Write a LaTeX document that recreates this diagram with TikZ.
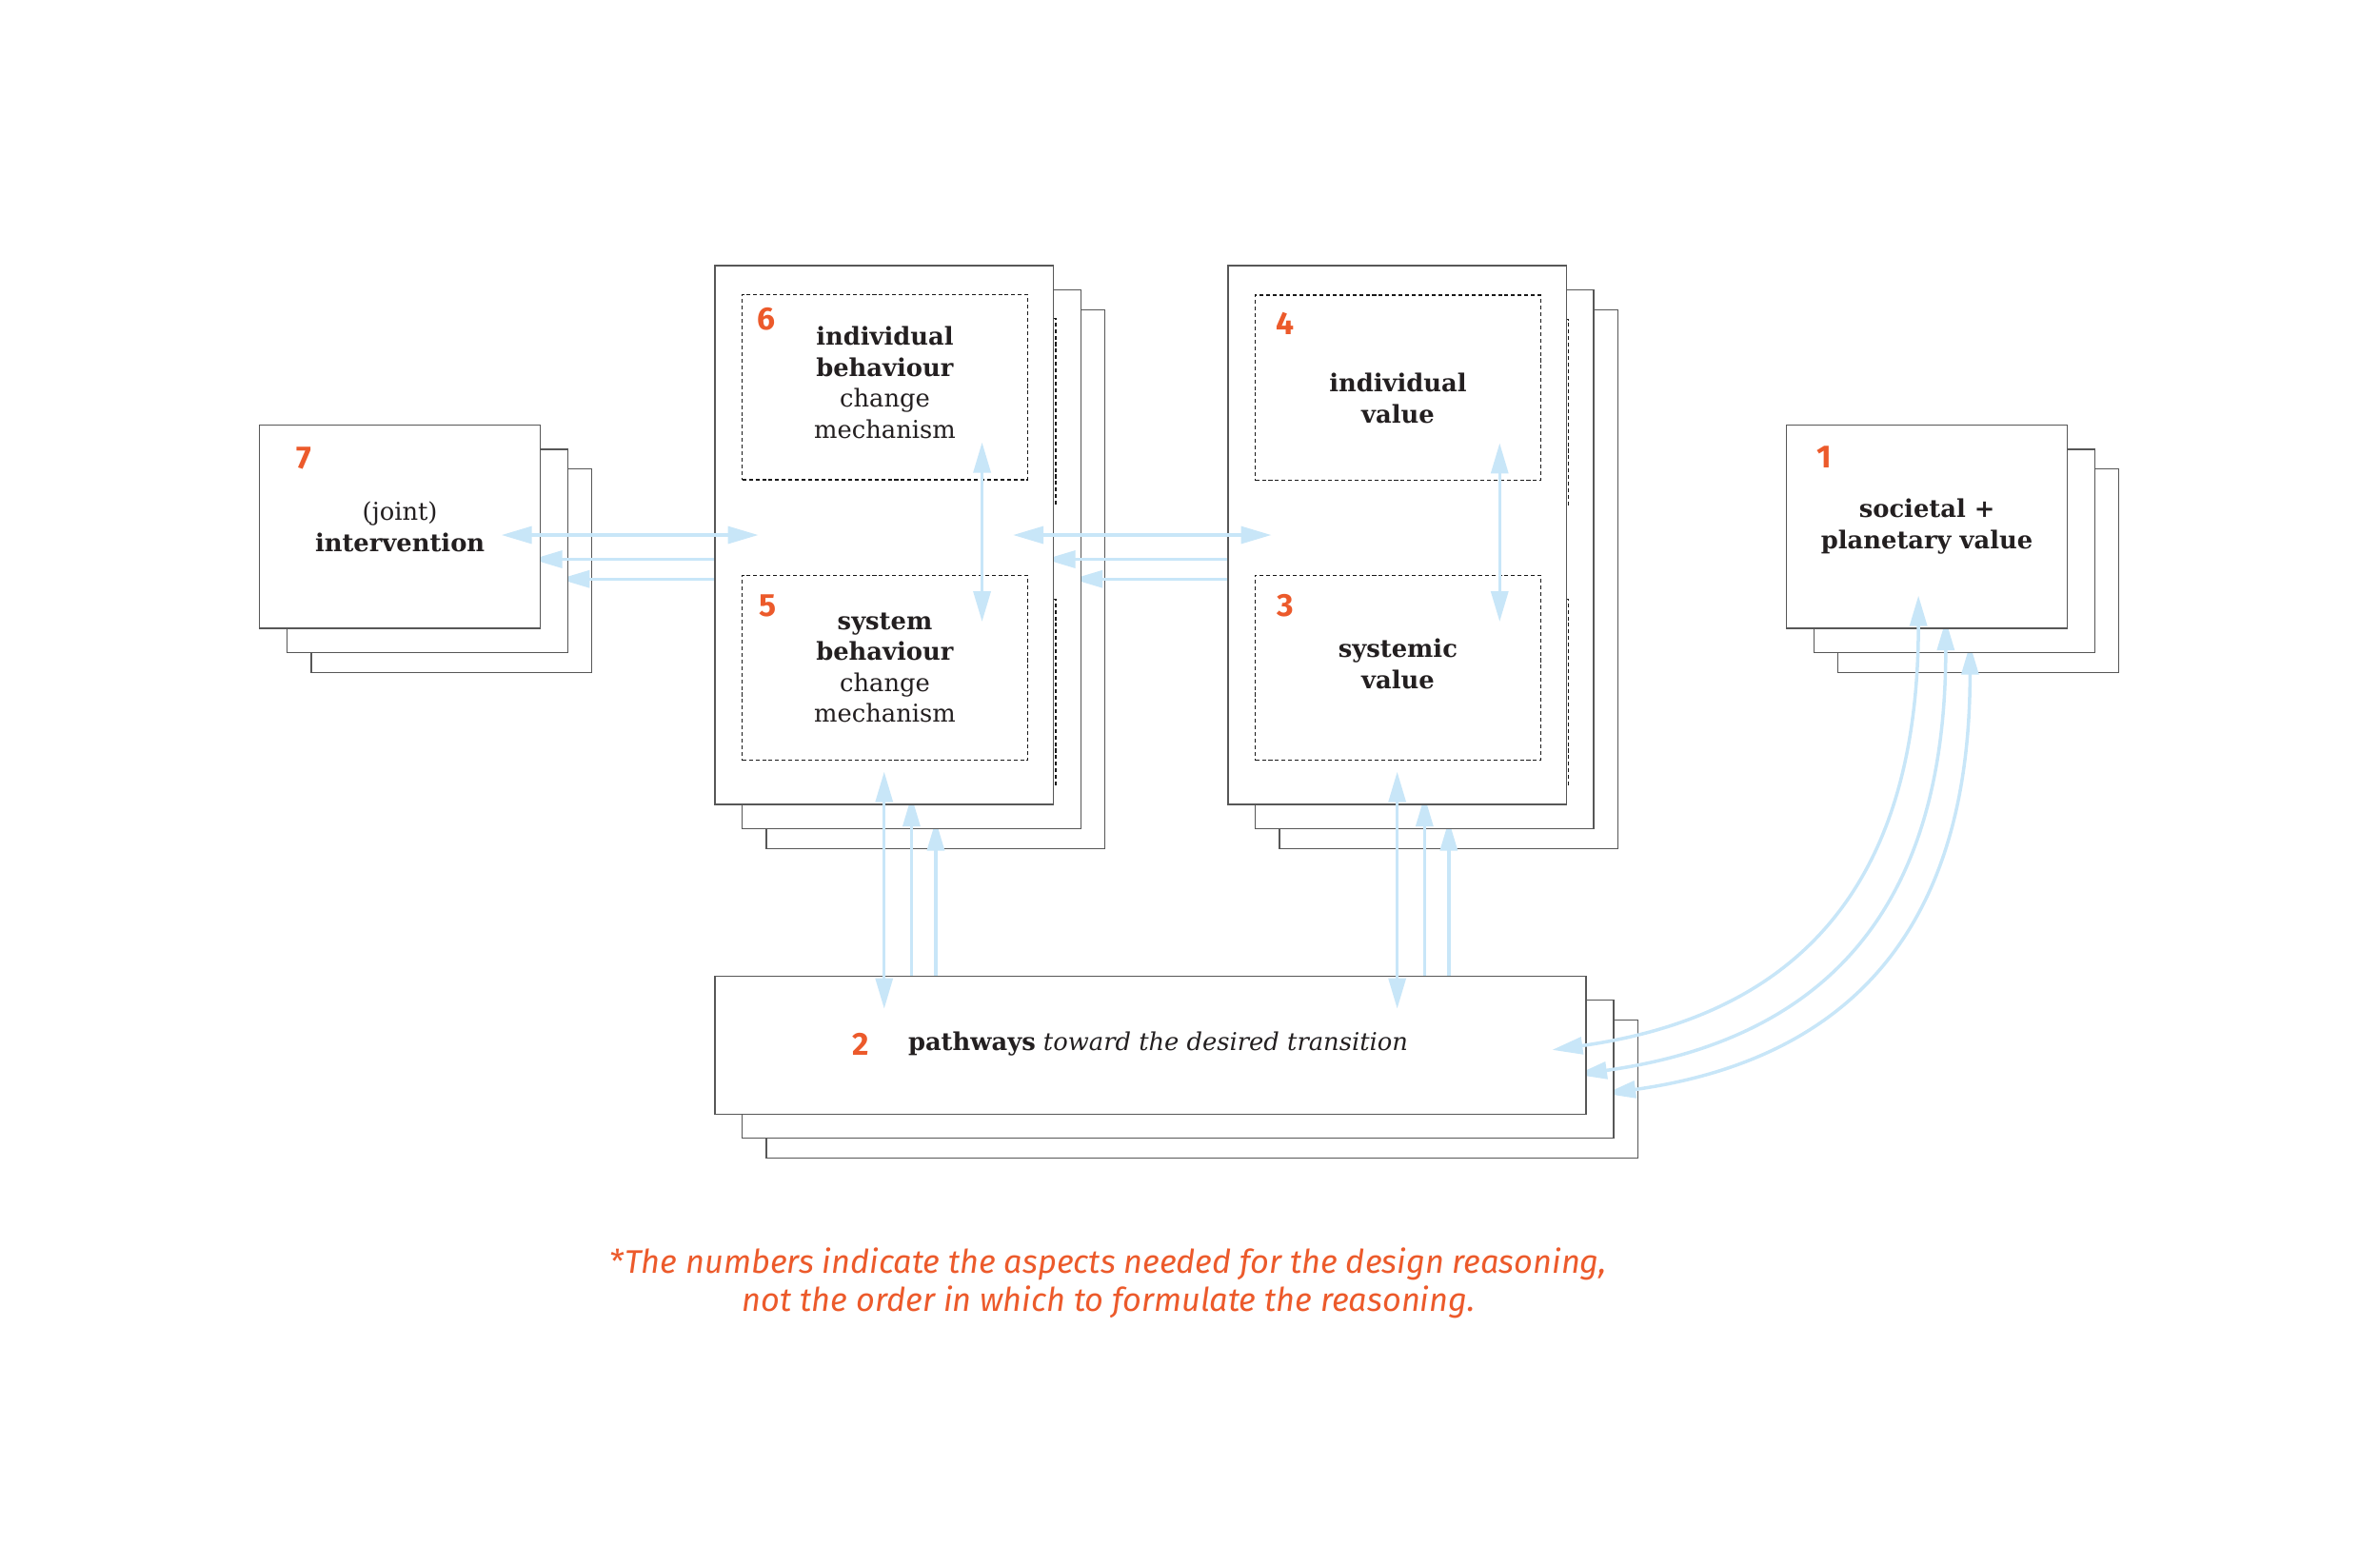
\documentclass[tikz,border=0pt]{standalone}
\usepackage{fontspec}
\setmainfont{DejaVu Serif}
\newfontfamily\numfont{Fira Sans}
\usepackage{tikz}
\usetikzlibrary{arrows.meta, calc, positioning}
\definecolor{numorange}{HTML}{EC5A2B}
\definecolor{flowblue}{HTML}{C8E6F8}
\definecolor{sheetgrey}{HTML}{575757}
\definecolor{inkblack}{HTML}{231F20}
\pgfdeclarelayer{sheetsc}
\pgfdeclarelayer{flowc}
\pgfdeclarelayer{sheetsb}
\pgfdeclarelayer{flowb}
\pgfsetlayers{sheetsc,flowc,sheetsb,flowb,main}

\begin{document}
\begin{tikzpicture}[
    x=0.25mm,
    y=0.25mm,
    >={Triangle[length=5mm,width=2.8mm]},
    sheet/.style={
        draw=sheetgrey,
        fill=white,
        line width=0.6pt,
        inner sep=0pt,
        align=center,
        text=inkblack,
        font=\fontsize{11.5}{14.5}\selectfont
    },
    smallsheet/.style={sheet, minimum width=46.25mm, minimum height=33.5mm},
    tallsheet/.style={sheet, minimum width=55.75mm, minimum height=88.75mm},
    widesheet/.style={sheet, minimum width=143.5mm, minimum height=22.75mm},
    innerbox/.style={
        draw=black!90,
        dash pattern=on 1.8pt off 1.3pt,
        line width=0.6pt,
        minimum width=47mm,
        minimum height=30.5mm,
        inner sep=0pt,
        align=center,
        text=inkblack,
        font=\fontsize{11.5}{14.5}\selectfont
    },
    boxtext/.style={
        align=center,
        text=inkblack,
        inner sep=0pt,
        font=\fontsize{11.5}{14.5}\selectfont
    },
    num/.style={
        text=numorange,
        font=\numfont\bfseries\fontsize{15}{15}\selectfont
    },
    flow/.style={
        draw=flowblue,
        line width=0.55mm
    },
    both/.style={flow, <->},
    back/.style={flow, ->, shorten >=-1.5mm}
]

\useasboundingbox (0,0) rectangle (1568,-1018);

% -----------------------------------------------------
% Ark (bageste, mellemste, forreste)
% -----------------------------------------------------

\begin{pgfonlayer}{sheetsc}
\node[smallsheet] (interv3) at (297.5,-376) {};
\node[tallsheet] (behav3) at (616.5,-381.5) {};
\node[tallsheet] (value3) at (954.5,-381.5) {};
\node[smallsheet] (soc3) at (1303.5,-376) {};
\node[widesheet] (path3) at (792,-717.5) {};
\end{pgfonlayer}

\begin{pgfonlayer}{sheetsb}
\node[smallsheet] (interv2) at (281.5,-363) {};
\node[tallsheet] (behav2) at (600.5,-368.5) {};
\node[innerbox] (ind6b) at (601.5,-271) {};
\node[innerbox] (sys5b) at (601.5,-456) {};
\node[tallsheet] (value2) at (938.5,-368.5) {};
\node[innerbox] (ind4b) at (939.5,-271.5) {};
\node[innerbox] (sys3b) at (939.5,-456) {};
\node[smallsheet] (soc2) at (1287.5,-363) {};
\node[widesheet] (path2) at (776,-704.5) {};
\end{pgfonlayer}

\node[smallsheet] (interv) at (263.5,-347)
    {(joint)\\ \textbf{intervention}};

\node[tallsheet] (behav) at (582.5,-352.5) {};
\node[innerbox] (ind6) at (583,-255) {};
\node[boxtext] (ind6text) at (583,-252)
    {\textbf{individual}\\ \textbf{behaviour}\\ change\\ mechanism};
\node[innerbox] (sys5) at (583,-440)
    {\textbf{system}\\ \textbf{behaviour}\\ change\\ mechanism};

\node[tallsheet] (value) at (920.5,-352.5) {};
\node[innerbox] (ind4) at (921,-255.5) {};
\node[boxtext] (ind4text) at (921,-262.5)
    {\textbf{individual}\\ \textbf{value}};
\node[innerbox] (sys3) at (921,-440) {};
\node[boxtext] (sys3text) at (921,-437.5)
    {\textbf{systemic}\\ \textbf{value}};

\node[smallsheet] (soc) at (1269.5,-347)
    {\textbf{societal +}\\ \textbf{planetary value}};

\node[widesheet] (path) at (758,-688.5) {};
\node[boxtext] (pathtext) at (763,-688)
    {\textbf{pathways} \textit{toward the desired transition}};

% -----------------------------------------------------
% Pile der gemmer sig under arkene
% -----------------------------------------------------

\begin{pgfonlayer}{flowc}
\draw[back] (behav.west |- behav3.center) -- (interv2.east |- behav3.center);
\draw[back] (value.west |- behav3.center) -- (behav2.east |- behav3.center);
\draw[back] (behav3.south |- path.north) -- (behav2.south -| behav3.south);
\draw[back] (value3.south |- path.north) -- (value2.south -| value3.south);
\draw[flow, <->, shorten <=-4.75mm, shorten >=-5.5mm]
    ([xshift=-1.4mm]soc3.south) to[out=-90, in=8, looseness=1.12] (path3.east);
\end{pgfonlayer}

\begin{pgfonlayer}{flowb}
\draw[back] (behav.west |- behav2.center) -- (interv.east |- behav2.center);
\draw[back] (value.west |- behav2.center) -- (behav.east |- behav2.center);
\draw[back] (behav2.south |- path.north) -- (behav.south -| behav2.south);
\draw[back] (value2.south |- path.north) -- (value.south -| value2.south);
\draw[flow, <->, shorten <=-5.5mm, shorten >=-6.25mm]
    ([xshift=-1.4mm]soc2.south) to[out=-90, in=8, looseness=1.12] (path2.east);
\end{pgfonlayer}

% -----------------------------------------------------
% Dobbeltpile
% -----------------------------------------------------

\draw[both, shorten <=-6.5mm, shorten >=-7.25mm] (interv.east |- behav.center) -- (behav.west);
\draw[both, shorten <=-6.75mm, shorten >=-7.25mm] (behav.east) -- (value.west);

\draw[both, shorten <=-6.25mm, shorten >=-7.75mm] ([xshift=16mm]ind6.south) -- ([xshift=16mm]sys5.north);
\draw[both, shorten <=-6.25mm, shorten >=-7.75mm] ([xshift=16.75mm]ind4.south) -- ([xshift=16.75mm]sys3.north);

\draw[both, shorten <=-5.5mm, shorten >=-5.5mm] (behav.south) -- (behav.south |- path.north);
\draw[both, shorten <=-5.5mm, shorten >=-5.5mm] (value.south) -- (value.south |- path.north);

\draw[both, shorten <=-5.5mm, shorten >=-5.75mm]
    ([xshift=-1.4mm]soc.south) to[out=-90, in=8, looseness=1.12] (path.east);

% -----------------------------------------------------
% Numre og note
% -----------------------------------------------------

\node[num] (n7) at (200,-302) {7};
\node[num] (n6) at (505,-210) {6};
\node[num] (n5) at (506,-399) {5};
\node[num] (n4) at (847,-213) {4};
\node[num] (n3) at (847,-399) {3};
\node[num] (n2) at (567,-688) {2};
\node[num] (n1) at (1202,-301) {1};

\node[
    align=center,
    text=numorange,
    font=\numfont\itshape\fontsize{15.3}{17.7}\selectfont
] (note) at (730.5,-845.5)
{
    {\upshape *}The numbers indicate the aspects needed for the design reasoning,\\
    not the order in which to formulate the reasoning.
};

\end{tikzpicture}
\end{document}
